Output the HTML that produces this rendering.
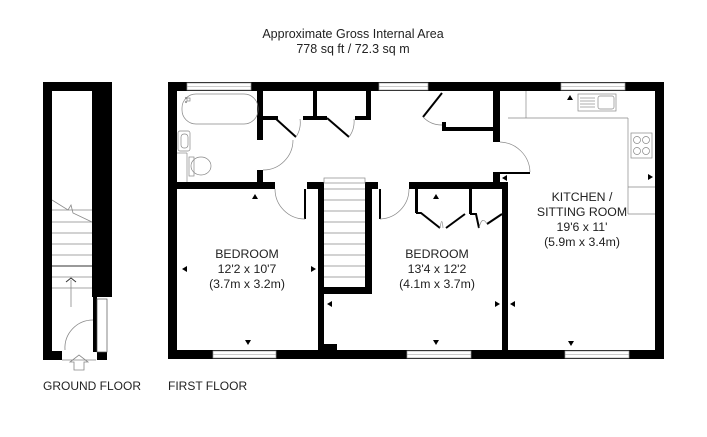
<!DOCTYPE html>
<html><head><meta charset="utf-8"><style>
html,body{margin:0;padding:0;background:#fff;}
svg{display:block;}
text{font-family:"Liberation Sans",Arial,sans-serif;fill:#222;}
</style></head><body>
<svg width="707" height="437" viewBox="0 0 707 437" xmlns="http://www.w3.org/2000/svg">
<rect width="707" height="437" fill="#fff"/>
<text x="353" y="38" font-size="12.5" text-anchor="middle">Approximate Gross Internal Area</text>
<text x="353" y="53" font-size="12.5" text-anchor="middle">778 sq ft / 72.3 sq m</text>

<!-- GROUND FLOOR -->
<g fill="#000">
<rect x="43" y="82" width="9" height="278"/>
<rect x="43" y="82" width="69" height="9"/>
<rect x="92" y="82" width="20" height="215"/>
<rect x="93" y="297" width="4" height="55"/>
<rect x="97" y="352" width="10" height="8"/>
<rect x="43" y="351" width="19" height="9"/>
</g>
<rect x="97" y="299" width="10" height="53" fill="#fff" stroke="#555" stroke-width="0.7"/>
<g stroke="#888" stroke-width="0.8" fill="none">
<line x1="52" y1="210" x2="92" y2="210"/>
<line x1="52" y1="222" x2="92" y2="222"/>
<line x1="52" y1="233" x2="92" y2="233"/>
<line x1="52" y1="244" x2="92" y2="244"/>
<line x1="52" y1="255" x2="92" y2="255"/>
<line x1="52" y1="277" x2="92" y2="277"/>
<line x1="52" y1="288" x2="92" y2="288"/>
<polyline points="52,200 68,210 71,205 73,213 92,222"/>
<line x1="71" y1="280" x2="71" y2="307"/>
<path d="M93,320 A28,28 0 0 0 65,350"/>
<line x1="62" y1="360" x2="96" y2="360"/>
</g>
<g stroke="#333" stroke-width="1" fill="none">
<line x1="52" y1="266" x2="92" y2="266"/>
<polyline points="66,282 71,278 76,282"/>
</g>
<path d="M74,370 L74,362 L70,362 L79,355 L88,362 L84,362 L84,370 Z" fill="none" stroke="#888" stroke-width="0.8"/>
<text x="43" y="390" font-size="12">GROUND FLOOR</text>
<text x="168" y="390" font-size="12">FIRST FLOOR</text>

<!-- FIRST FLOOR outer walls -->
<g fill="#000">
<rect x="168" y="82" width="9" height="277"/>
<rect x="168" y="82" width="496" height="9"/>
<rect x="655" y="82" width="9" height="277"/>
<rect x="168" y="350" width="496" height="9"/>
</g>
<!-- windows -->
<g fill="#fff" stroke="#999" stroke-width="0.7">
<rect x="187" y="83" width="64" height="7"/>
<rect x="379" y="83" width="49" height="7"/>
<rect x="561" y="83" width="64" height="7"/>
<rect x="213" y="351" width="63" height="7"/>
<rect x="407" y="351" width="64" height="7"/>
<rect x="565" y="351" width="64" height="7"/>
</g>
<g stroke="#999" stroke-width="0.6">
<line x1="187" y1="86.5" x2="251" y2="86.5"/><line x1="379" y1="86.5" x2="428" y2="86.5"/><line x1="561" y1="86.5" x2="625" y2="86.5"/>
<line x1="213" y1="354.5" x2="276" y2="354.5"/><line x1="407" y1="354.5" x2="471" y2="354.5"/><line x1="565" y1="354.5" x2="629" y2="354.5"/>
</g>

<!-- internal walls -->
<g fill="#000">
<rect x="168" y="182" width="107" height="7"/>
<rect x="257" y="91" width="6" height="49"/>
<rect x="257" y="170" width="6" height="14"/>
<rect x="263" y="116" width="15" height="4"/>
<rect x="313" y="91" width="4" height="29"/>
<rect x="303" y="116" width="24" height="4"/>
<rect x="366" y="91" width="5" height="29"/>
<rect x="355" y="116" width="16" height="4"/>
<rect x="307" y="182" width="17" height="7"/>
<rect x="318" y="182" width="6" height="168"/>
<rect x="365" y="182" width="7" height="112"/>
<rect x="324" y="287" width="48" height="7"/>
<rect x="324" y="344" width="13" height="8"/>
<rect x="372" y="182" width="6" height="7"/>
<rect x="409" y="182" width="99" height="7"/>
<rect x="442" y="127" width="51" height="4"/>
<rect x="442" y="122" width="4" height="9"/>
<rect x="493" y="91" width="7" height="51"/>
<rect x="493" y="172" width="7" height="17"/>
<rect x="502" y="182" width="6" height="170"/>
<rect x="415" y="189" width="3" height="24"/>
<rect x="469" y="189" width="3" height="25"/>
</g>
<!-- door leaves -->
<g stroke="#000" stroke-width="2" fill="none">
<line x1="275" y1="118" x2="296" y2="137"/>
<line x1="327" y1="118" x2="349" y2="137"/>
<line x1="423" y1="117" x2="442" y2="93"/>
<line x1="305" y1="189" x2="305" y2="219"/>
<line x1="380" y1="189" x2="380" y2="219"/>
<polyline points="416,213 421,213 440,228"/>
<polyline points="465,214 446,228"/>
<polyline points="470,214 476,214 479,228"/>
<polyline points="502,214 487,224"/>
<line x1="500" y1="173" x2="530" y2="173"/>
</g>
<g stroke="#888" stroke-width="0.7" fill="none">
<path d="M263,170 A30,30 0 0 0 293,140"/>
<path d="M296,137 A26,26 0 0 0 300,119"/>
<path d="M349,137 A26,26 0 0 0 354,119"/>
<path d="M423,117 A26,26 0 0 0 442,125"/>
<path d="M275,189 A30,30 0 0 0 305,219"/>
<path d="M409,189 A30,30 0 0 1 380,219"/>
<path d="M500,142 A31,31 0 0 1 530,172"/>
<path d="M440,228 Q442,215 443,228"/>
<path d="M479,228 Q482,215 487,224"/>
<rect x="324" y="178" width="41" height="5"/>
<line x1="324" y1="200" x2="365" y2="200"/><line x1="324" y1="211" x2="365" y2="211"/>
<line x1="324" y1="222" x2="365" y2="222"/><line x1="324" y1="233" x2="365" y2="233"/>
<line x1="324" y1="244" x2="365" y2="244"/><line x1="324" y1="255" x2="365" y2="255"/>
<line x1="324" y1="266" x2="365" y2="266"/><line x1="324" y1="277" x2="365" y2="277"/>
<line x1="324" y1="189" x2="365" y2="189"/>
<rect x="182" y="94" width="76" height="30" rx="14"/>
<circle cx="186" cy="98" r="0.8"/><circle cx="186" cy="102" r="0.8"/><rect x="187" y="98" width="3" height="3"/>
<rect x="178" y="131" width="12" height="20" rx="2"/>
<rect x="181" y="134" width="7" height="14" rx="3"/>
<line x1="177" y1="153" x2="187" y2="153"/><line x1="187" y1="153" x2="187" y2="182"/>
<rect x="189" y="157" width="5" height="19"/>
<ellipse cx="201" cy="166" rx="10" ry="9"/>
<line x1="508" y1="118" x2="628" y2="118"/>
<line x1="526" y1="91" x2="526" y2="118"/>
<line x1="628" y1="118" x2="628" y2="214"/>
<line x1="628" y1="214" x2="655" y2="214"/>
<line x1="628" y1="187" x2="655" y2="187"/>
<rect x="578" y="94" width="38" height="17"/>
<rect x="598" y="96" width="16" height="13" rx="2"/>
<line x1="580" y1="98" x2="595" y2="98"/><line x1="580" y1="101" x2="595" y2="101"/><line x1="580" y1="104" x2="595" y2="104"/><line x1="580" y1="107" x2="595" y2="107"/>
<rect x="631" y="133" width="21" height="25"/>
<circle cx="637" cy="140" r="3.5"/><circle cx="646" cy="140" r="3.5"/>
<circle cx="637" cy="151" r="3.5"/><circle cx="646" cy="151" r="3.5"/>
</g>
<g fill="#000">
<path d="M255,194 l-3,5 h6z"/>
<path d="M436,194 l-3,5 h6z"/>
<path d="M570,95 l-3,5 h6z"/>
<path d="M182,269 l5,-3 v6z"/>
<path d="M316,269 l-5,-3 v6z"/>
<path d="M327,304 l5,-3 v6z"/>
<path d="M500,304 l-5,-3 v6z"/>
<path d="M510,304 l5,-3 v6z"/>
<path d="M653,177 l-5,-3 v6z"/>
<path d="M502,178 l5,-3 v6z"/>
<path d="M248,345 l-3,-5 h6z"/>
<path d="M436,345 l-3,-5 h6z"/>
<path d="M571,346 l-3,-5 h6z"/>
</g>
<g font-size="12.3" text-anchor="middle">
<text x="247" y="258">BEDROOM</text>
<text x="247" y="273">12'2 x 10'7</text>
<text x="247" y="288">(3.7m x 3.2m)</text>
<text x="437" y="258">BEDROOM</text>
<text x="437" y="273">13'4 x 12'2</text>
<text x="437" y="288">(4.1m x 3.7m)</text>
<text x="582" y="201">KITCHEN /</text>
<text x="582" y="216">SITTING ROOM</text>
<text x="582" y="231">19'6 x 11'</text>
<text x="582" y="246">(5.9m x 3.4m)</text>
</g>
</svg>
</body></html>
